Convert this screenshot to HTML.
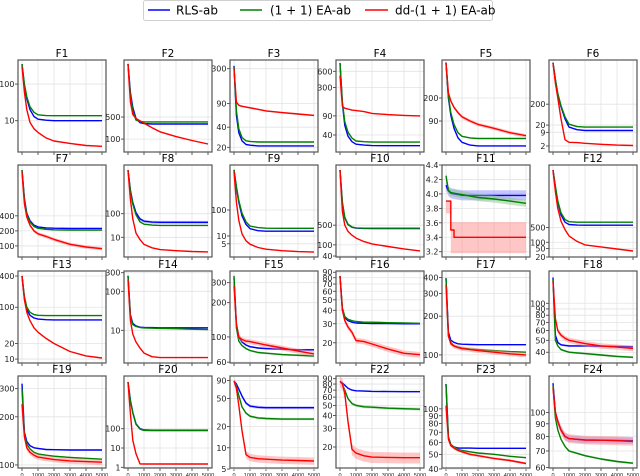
<!DOCTYPE html>
<html><head><meta charset="utf-8">
<style>
body{margin:0;background:#fff;}
svg{display:block;font-family:"DejaVu Sans","Liberation Sans",sans-serif;}
</style></head>
<body>
<svg id="chart" width="640" height="476" viewBox="0 0 640 476" xmlns="http://www.w3.org/2000/svg">
  <g>
    <rect x="143.5" y="0.5" width="349" height="20" rx="2" fill="#fff" stroke="#d0d0d0"/>
    <g>
      <line x1="148" y1="10" x2="170" y2="10" stroke="#0000ff" stroke-width="1.5"/>
      <text x="176" y="14.5" font-size="12" fill="#000">RLS-ab</text>
    </g>
    <g>
      <line x1="240" y1="10" x2="262" y2="10" stroke="#008000" stroke-width="1.5"/>
      <text x="270" y="14.5" font-size="12" fill="#000">(1 + 1) EA-ab</text>
    </g>
    <g>
      <line x1="365" y1="10" x2="388" y2="10" stroke="#ff0000" stroke-width="1.5"/>
      <text x="395" y="14.5" font-size="12" fill="#000">dd-(1 + 1) EA-ab</text>
    </g>
  </g>
  <g id="panels"></g>
</svg>
<script>
const xs = [0,150,300,500,750,1000,1500,2000,3000,4000,5000];
const xTicks = [0,1000,2000,3000,4000,5000];
const titles = ["F1","F2","F3","F4","F5","F6","F7","F8","F9","F10","F11","F12","F13","F14","F15","F16","F17","F18","F19","F20","F21","F22","F23","F24"];
const scaleTypes = ["log","log","log","log","log","log","log","log","log","log","lin","log","log","log","log","log","log","log","log","log","log","log","log","log"];
const domains = [[1.4,454],[39,32000],[17,405],[19.4,970],[30.7,748],[1.03,26000],[60,4170],[1.46,11600],[1.55,5400],[37,68700],[3.127,4.4],[20,464000],[8.4,500],[1.45,332],[59,380],[13,92.4],[86.5,449],[32.7,183],[95.7,360],[0.92,54000],[5.17,104],[12.6,95.5],[40.6,165],[59.8,140]];
const yTickLabels = [
 [100,10],[500,100],[300,90,40,20],[600,300,90,40],[200,90],[200,20,9,2],
 [400,200,100],[100,10],[100,10,5],[500,100,40],[4.4,4.2,4.0,3.8,3.6,3.4,3.2],[500,100,50,20],
 [400,100,20,10],[300,100,10],[300,200,100,60],[90,80,70,60,50,40,30,20],[400,300,200,100],[100,90,80,70,60,50,40],
 [300,200,100],[100,10,1],[90,50,20,10,5],[90,80,70,60,50,40,30,20],[100,90,80,70,60,50,40],[100,90,80,70,60]
];
const blueVals = [
 [350,90,40,20,13,11,10.3,10,10,10,10],
 [24000,3000,1000,450,330,310,300,300,300,300,300],
 [330,60,33,25,22,21.5,21,21,21,21,21],
 [850,150,60,38,30,27,26,25.5,25.4,25.4,25.4],
 [680,200,110,70,50,43,39,38,38,38,38],
 [19000,3000,600,150,40,16,12,11,11,11,11],
 [3300,900,450,320,260,240,230,226,224,224,224],
 [7000,1000,300,110,60,48,44,43,43,43,43],
 [3500,700,200,60,28,19,16,15.2,15.2,15.2,15.2],
 [45700,3000,900,520,420,395,385,380,379,379,379],
 [4.12,4.04,4.01,4.0,3.99,3.98,3.98,3.98,3.98,3.98,3.98],
 [267000,40000,8000,2000,900,700,650,643,643,643,643],
 [400,150,90,70,62,59,57.5,57,57,57,57],
 [250,25,15,13,12,11.8,11.7,11.6,11.6,11.6,11.6],
 [330,130,100,90,85,82,80,79,78,77,77],
 [83,40,34,32,31,30.5,30.3,30.2,30.1,30,30],
 [395,150,130,125,122,121,120.5,120,120,120,120],
 [162,55,48,46,45.5,45,45,45,44.8,44.5,44.4],
 [322,160,140,132,128,127,125,124.5,124,124,124],
 [26000,3000,700,180,100,86,83,83,83,83,83],
 [88,80,68,54,43,39,37.5,37,37,37,37],
 [85,82,78,73,70,69,68.5,68,67.8,67.6,67.6],
 [146,65,58,56,55,55,55,54.8,54.8,54.8,54.8],
 [131,100,92,85,80,78.5,78,77.5,77.3,77.2,77]
];
const greenVals = [
 [350,100,45,24,17,14.5,13.8,13.7,13.7,13.7,13.7],
 [24000,2500,800,400,360,350,350,350,350,350,350],
 [320,70,38,28,25,24.5,24,24,24,24,24],
 [850,160,70,45,35,31,30,29.5,29.5,29.5,29.5],
 [680,210,120,80,60,53,50,49,49,49,49],
 [19000,3000,650,170,50,22,17,16,16,16,16],
 [3300,850,430,300,245,225,215,210,208,207,207],
 [7000,900,250,90,45,36,33,32,32,32,32],
 [3500,800,230,75,35,24,21,20,19.8,19.8,19.8],
 [45700,3200,950,540,430,400,390,390,390,390,390],
 [4.25,4.05,4.02,4.01,4.0,3.99,3.97,3.95,3.93,3.9,3.87],
 [267000,45000,9000,2500,1200,950,900,895,895,895,895],
 [400,160,100,80,72,70,69,69,69,69,69],
 [250,23,14,12.5,11.8,11.5,11.3,11.2,11,10.7,10.5],
 [345,120,92,84,79,76,73,72,70,69,68],
 [83,42,35,33,32,31.5,31,31,30.7,30.5,30.3],
 [395,140,125,118,115,113,111,110,108,106,105],
 [155,50,45,42,41,40,39.5,39,38,37,36.4],
 [300,155,135,126,120,117,115,113.5,111.5,110,108.6],
 [26000,2800,650,170,95,82,80,80,80,80,80],
 [88,75,55,38,31,28,26.5,26,25.5,25.5,25.5],
 [85,80,70,58,52,50,48.5,48,47,46.5,46],
 [146,65,58,56,54,53,52,51,50,48.5,47.5],
 [128,95,85,78,73,70,68.5,67,65,63.5,62.5]
];
const redVals = [
 [300,60,20,9,6,4.8,3.4,2.8,2.4,2.1,2.0],
 [24000,1500,600,450,380,320,230,170,120,90,70],
 [300,95,85,82,80,78,74,70,66,63,60],
 [500,135,125,120,115,113,108,100,95,92,90],
 [680,240,180,145,120,104,90,80,70,60,54],
 [19000,2000,400,40,4,3,2.9,2.7,2.4,2.2,2.1],
 [3000,700,380,260,200,175,155,135,108,95,88],
 [7000,400,60,15,8,5,3.6,3.0,2.7,2.5,2.4],
 [3000,200,40,12,6.5,4.8,3.6,3.1,2.7,2.5,2.4],
 [45700,1500,500,300,220,173,130,108,87,72,61],
 [3.9,3.9,3.5,3.4,3.4,3.4,3.4,3.4,3.4,3.4,3.4],
 [267000,25000,4000,1000,400,200,110,75,60,48,38.6],
 [400,140,80,55,40,33,25,20,14,11.5,10.5],
 [200,18,8,5,3.5,2.6,2.1,2.0,2.0,2.0,2.0],
 [280,130,100,95,92,91,88,85,80,75,71],
 [83,40,32,28,25,21,20.5,19.5,17.5,16,15.5],
 [350,140,122,117,114,112,110,108,105,102,100],
 [150,75,60,55,52,50,48.5,47,45,44,43],
 [240,150,128,120,115,112,110,108,106,105,104],
 [26000,600,25,5,1.5,1.48,1.48,1.48,1.48,1.48,1.48],
 [88,70,40,17.5,8,7.3,7,6.9,6.7,6.6,6.5],
 [85,80,65,35,19,17.5,16.5,16,15.9,15.8,15.8],
 [105,63,57,55,53,52,50,49,47,45.5,43.5],
 [125,100,92,85,80,78.5,78,77.5,77.3,77,76.5]
];
const redBand = [0.03,0.05,0.03,0.02,0.06,0.02,0.08,0.04,0.04,0.03,0,0.03,0.02,0.02,0.05,0.06,0.04,0.05,0.04,0.02,0.12,0.12,0.02,0.04];
const blueBand = [0.01,0.02,0.01,0.01,0.01,0.01,0.03,0.15,0.02,0.02,0,0.02,0.01,0.01,0.02,0.01,0.01,0.02,0.01,0.12,0.05,0.01,0.01,0.03];
const greenBand = [0.01,0.02,0.01,0.01,0.01,0.01,0.03,0.04,0.02,0.02,0,0.02,0.01,0.01,0.02,0.01,0.01,0.02,0.01,0.06,0.04,0.03,0.01,0.01];
const f11BlueSpread = 0.07, f11GreenSpread = 0.05;
const f11RedLow = [3.73,3.73,3.18,3.18,3.18,3.18,3.18,3.18,3.18,3.18,3.18];
const f11RedHigh = [3.9,3.9,3.61,3.61,3.61,3.61,3.61,3.61,3.61,3.61,3.61];

const NS = "http://www.w3.org/2000/svg";
const colLeft = [18,124,230,336,442,549];
const rowTop = [60,165,271,376];
const W = 88, H = 92;
const root = document.getElementById("panels");
function mk(tag, attrs, parent){const e=document.createElementNS(NS,tag);for(const k in attrs)e.setAttribute(k,attrs[k]);parent.appendChild(e);return e;}

titles.forEach((t,i)=>{
  const r=Math.floor(i/6), c=i%6;
  const L=colLeft[c], T=rowTop[r];
  const g=mk("g",{},root);
  
  
  const dom=domains[i], isLog=scaleTypes[i]==="log";
  const xScale=v=>L+4+v/5000*(W-8);
  const yScale=v=>{
    if(isLog){const a=Math.log10(dom[0]),b=Math.log10(dom[1]);return T+H-(Math.log10(v)-a)/(b-a)*H;}
    return T+H-(v-dom[0])/(dom[1]-dom[0])*H;
  };
  xTicks.forEach(xv=>{
    const gl=mk("line",{x1:xScale(xv),x2:xScale(xv),y1:T,y2:T+H,stroke:"#e3e3e3","stroke-width":0.8},g);
    
    
    const tk=mk("line",{x1:xScale(xv),x2:xScale(xv),y1:T+H,y2:T+H+3,stroke:"#333","stroke-width":0.8},g);
    
    
    if(r===3){
      const lb=mk("text",{x:xScale(xv),y:T+H+9,"font-size":5.6,"text-anchor":"middle",fill:"#222","font-family":"Liberation Sans, sans-serif"},g);
      lb.textContent=xv;
      
      
    }
  });
  yTickLabels[i].forEach(yv=>{
    const y=yScale(yv);
    const gl=mk("line",{x1:L,x2:L+W,y1:y,y2:y,stroke:"#e3e3e3","stroke-width":0.8},g);
    
    
    const tk=mk("line",{x1:L-3,x2:L,y1:y,y2:y,stroke:"#333","stroke-width":0.8},g);
    
    
    const lb=mk("text",{x:L-3.5,y:y+3,"font-size":8,"text-anchor":"end",fill:"#222"},g);
    lb.textContent=isLog?yv:yv.toFixed(1);
    
    
  });
  const series=[
    {name:"rls",vals:blueVals[i],col:"#0000ff",band:blueBand[i],fill:"#8080ff"},
    {name:"ea",vals:greenVals[i],col:"#008000",band:greenBand[i],fill:"#80c080"},
    {name:"dd-ea",vals:redVals[i],col:"#ff0000",band:redBand[i],fill:"#ff8080"}
  ];
  series.forEach((s)=>{
    const step = (t==="F11" && s.name==="dd-ea");
    let lo,hi;
    if(t==="F11"){
      if(s.name==="dd-ea"){lo=f11RedLow;hi=f11RedHigh;}
      else{const sp=s.name==="rls"?f11BlueSpread:f11GreenSpread;lo=s.vals.map(v=>v-sp);hi=s.vals.map(v=>v+sp);}
    } else {lo=s.vals.map(v=>v*(1-s.band));hi=s.vals.map(v=>v*(1+s.band));}
    const ptsFn=(arr)=>{
      const p=[];
      arr.forEach((v,k)=>{
        if(step&&k>0)p.push([xScale(xs[k]),yScale(arr[k-1])]);
        p.push([xScale(xs[k]),yScale(v)]);
      });return p;
    };
    const pl=ptsFn(lo), ph=ptsFn(hi);
    const bandPts=ph.concat(pl.slice().reverse()).map(p=>p[0].toFixed(1)+","+p[1].toFixed(1)).join(" ");
    const bd=mk("polygon",{points:bandPts,fill:s.fill,"fill-opacity":0.45,stroke:"none"},g);
    
    
    const lp=ptsFn(s.vals).map(p=>p[0].toFixed(1)+","+p[1].toFixed(1)).join(" ");
    const ln=mk("polyline",{points:lp,fill:"none",stroke:s.col,"stroke-width":1.4,"stroke-linejoin":"round"},g);
    
    
  });
  const box=mk("rect",{x:L,y:T,width:W,height:H,fill:"none",stroke:"#555","stroke-width":1.2},g);
  
  
  const tt=mk("text",{x:L+W/2,y:T-3,"font-size":10.5,"text-anchor":"middle",fill:"#000"},g);
  tt.textContent=t;
  
  
});
</script>
</body></html>
